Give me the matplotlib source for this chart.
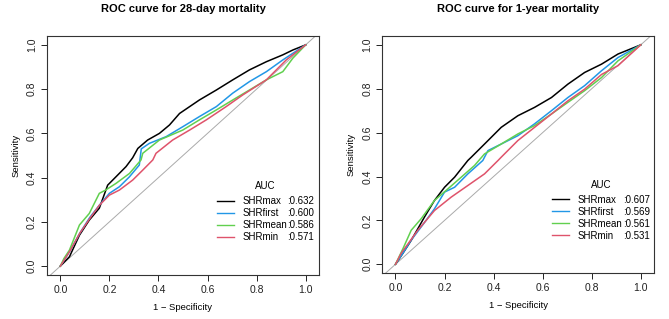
import numpy as np
import matplotlib
matplotlib.use("Agg")
import matplotlib.pyplot as plt

plt.rcParams['font.family'] = ['Liberation Sans', 'DejaVu Sans']

# ROC points (1 - specificity, sensitivity)
names = ["SHRmax", "SHRfirst", "SHRmean", "SHRmin"]
colors = ["black", "#2297E6", "#61D04F", "#DF536B"]

titles = ["ROC curve for 28-day mortality", "ROC curve for 1-year mortality"]
auc_28 = [0.632, 0.600, 0.586, 0.571]
auc_1y = [0.607, 0.569, 0.561, 0.531]

fpr_28_max = [0, 0.037, 0.078, 0.118, 0.159, 0.193, 0.227, 0.268, 0.295, 0.316, 0.356, 0.404, 0.445, 0.486, 0.567, 0.636, 0.703, 0.771, 0.84, 0.907, 0.948, 1]
tpr_28_max = [0, 0.042, 0.14, 0.208, 0.262, 0.366, 0.404, 0.45, 0.49, 0.532, 0.57, 0.6, 0.638, 0.69, 0.751, 0.796, 0.842, 0.887, 0.924, 0.955, 0.977, 1]
fpr_28_first = [0, 0.04, 0.08, 0.12, 0.159, 0.2, 0.241, 0.282, 0.322, 0.33, 0.363, 0.431, 0.499, 0.567, 0.636, 0.703, 0.771, 0.84, 0.907, 1]
tpr_28_first = [0, 0.07, 0.15, 0.22, 0.275, 0.329, 0.359, 0.404, 0.457, 0.53, 0.555, 0.585, 0.63, 0.676, 0.721, 0.782, 0.834, 0.879, 0.932, 1]
fpr_28_mean = [0, 0.015, 0.037, 0.078, 0.118, 0.159, 0.185, 0.227, 0.282, 0.329, 0.336, 0.404, 0.499, 0.567, 0.636, 0.703, 0.771, 0.84, 0.907, 0.948, 1]
tpr_28_mean = [0, 0.035, 0.072, 0.186, 0.238, 0.329, 0.344, 0.374, 0.419, 0.48, 0.51, 0.57, 0.615, 0.661, 0.706, 0.751, 0.796, 0.842, 0.879, 0.94, 1]
fpr_28_min = [0, 0.04, 0.08, 0.12, 0.159, 0.2, 0.241, 0.295, 0.336, 0.377, 0.39, 0.458, 0.527, 0.595, 0.676, 0.744, 0.84, 0.921, 1]
tpr_28_min = [0, 0.07, 0.15, 0.215, 0.275, 0.321, 0.344, 0.389, 0.434, 0.48, 0.51, 0.57, 0.615, 0.661, 0.721, 0.774, 0.842, 0.932, 1]

fpr_1y_max = [0, 0.03, 0.064, 0.118, 0.159, 0.2, 0.241, 0.295, 0.309, 0.363, 0.431, 0.499, 0.567, 0.636, 0.703, 0.771, 0.84, 0.907, 1]
tpr_1y_max = [0, 0.05, 0.109, 0.215, 0.291, 0.351, 0.397, 0.473, 0.488, 0.548, 0.624, 0.677, 0.715, 0.76, 0.821, 0.874, 0.912, 0.958, 1]
fpr_1y_first = [0, 0.03, 0.064, 0.118, 0.159, 0.2, 0.241, 0.295, 0.356, 0.377, 0.431, 0.499, 0.567, 0.636, 0.703, 0.771, 0.84, 0.907, 1]
tpr_1y_first = [0, 0.05, 0.11, 0.19, 0.253, 0.329, 0.351, 0.412, 0.473, 0.518, 0.548, 0.586, 0.64, 0.7, 0.76, 0.814, 0.882, 0.942, 1]
fpr_1y_mean = [0, 0.03, 0.064, 0.105, 0.159, 0.214, 0.268, 0.322, 0.363, 0.431, 0.499, 0.567, 0.636, 0.703, 0.771, 0.84, 0.907, 1]
tpr_1y_mean = [0, 0.07, 0.155, 0.208, 0.291, 0.344, 0.397, 0.45, 0.503, 0.548, 0.594, 0.632, 0.685, 0.738, 0.791, 0.851, 0.927, 1]
fpr_1y_min = [0, 0.023, 0.091, 0.159, 0.227, 0.295, 0.363, 0.418, 0.431, 0.499, 0.567, 0.636, 0.703, 0.771, 0.84, 0.907, 1]
tpr_1y_min = [0, 0.05, 0.155, 0.245, 0.306, 0.359, 0.412, 0.473, 0.488, 0.564, 0.624, 0.685, 0.745, 0.798, 0.865, 0.905, 1]

panels = [
    (titles[0], auc_28, [(fpr_28_max, tpr_28_max), (fpr_28_first, tpr_28_first),
                         (fpr_28_mean, tpr_28_mean), (fpr_28_min, tpr_28_min)]),
    (titles[1], auc_1y, [(fpr_1y_max, tpr_1y_max), (fpr_1y_first, tpr_1y_first),
                         (fpr_1y_mean, tpr_1y_mean), (fpr_1y_min, tpr_1y_min)]),
]

fig = plt.figure(figsize=(6.69, 3.19), dpi=100)
axes = [fig.add_axes([0.070, 0.138, 0.407, 0.749]),
        fig.add_axes([0.571, 0.144, 0.407, 0.743])]

fs = 7.5      # tick labels
lfs = 7       # legend
legends = []
for ax, (title, aucs, curves) in zip(axes, panels):
    ax.axline((0, 0), (1, 1), color="#aaaaaa", lw=0.7, zorder=1)
    handles = []
    for (fx, ty), name, col in zip(curves, names, colors):
        h, = ax.plot(fx, ty, color=col, lw=1.1, label=name, zorder=2)
        handles.append(h)
    ax.set_xlim(-0.055, 1.055)
    ax.set_ylim(-0.04, 1.04)
    ticks = np.arange(0, 1.01, 0.2)
    ax.set_xticks(ticks)
    ax.set_yticks(ticks)
    ax.set_xticklabels([f"{t:.1f}" for t in ticks], fontsize=fs)
    ax.set_yticklabels([f"{t:.1f}" for t in ticks], fontsize=fs, rotation=90, va="center")
    ax.tick_params(direction="out", length=4, width=0.7, pad=3, colors="#222222")
    for s in ax.spines.values():
        s.set_linewidth(0.8)
        s.set_color("#333333")
    ax.set_xlabel("1 \u2212 Specificity", fontsize=6.8, labelpad=6)
    ax.set_ylabel("Sensitivity", fontsize=6.8, labelpad=5)
    ax.set_title(title, fontsize=8, fontweight="bold", pad=17)
    leg = ax.legend(handles=handles, loc="upper left", bbox_to_anchor=(0.625, 0.33),
                    frameon=False, fontsize=lfs, handlelength=1.7, handletextpad=0.9,
                    labelspacing=0.2, borderpad=0, borderaxespad=0)
    for lh in leg.get_lines():
        lh.set_linewidth(1.0)
    legends.append((ax, leg, aucs))

fig.canvas.draw()
renderer = fig.canvas.get_renderer()
for ax, leg, aucs in legends:
    inv = ax.transAxes.inverted()
    texts = leg.get_texts()
    right = max(t.get_window_extent().x1 for t in texts) + 0.5
    left = leg.get_window_extent().x0
    last_right = right
    for t, a in zip(texts, aucs):
        bb = t.get_window_extent()
        x, y = inv.transform((right, (bb.y0 + bb.y1) / 2))
        tx = ax.text(x, y, f":{a:.3f}", transform=ax.transAxes, fontsize=lfs,
                     va="center", ha="left")
        last_right = max(last_right, tx.get_window_extent(renderer).x1)
    bb0 = texts[0].get_window_extent()
    step = bb0.y1 - bb0.y0 + 3.5
    cx, cy = inv.transform(((left + last_right) / 2, (bb0.y0 + bb0.y1) / 2 + step + 1.5))
    ax.text(cx, cy, "AUC", transform=ax.transAxes, fontsize=lfs, ha="center", va="center")

fig.savefig("out.png", dpi=100)
